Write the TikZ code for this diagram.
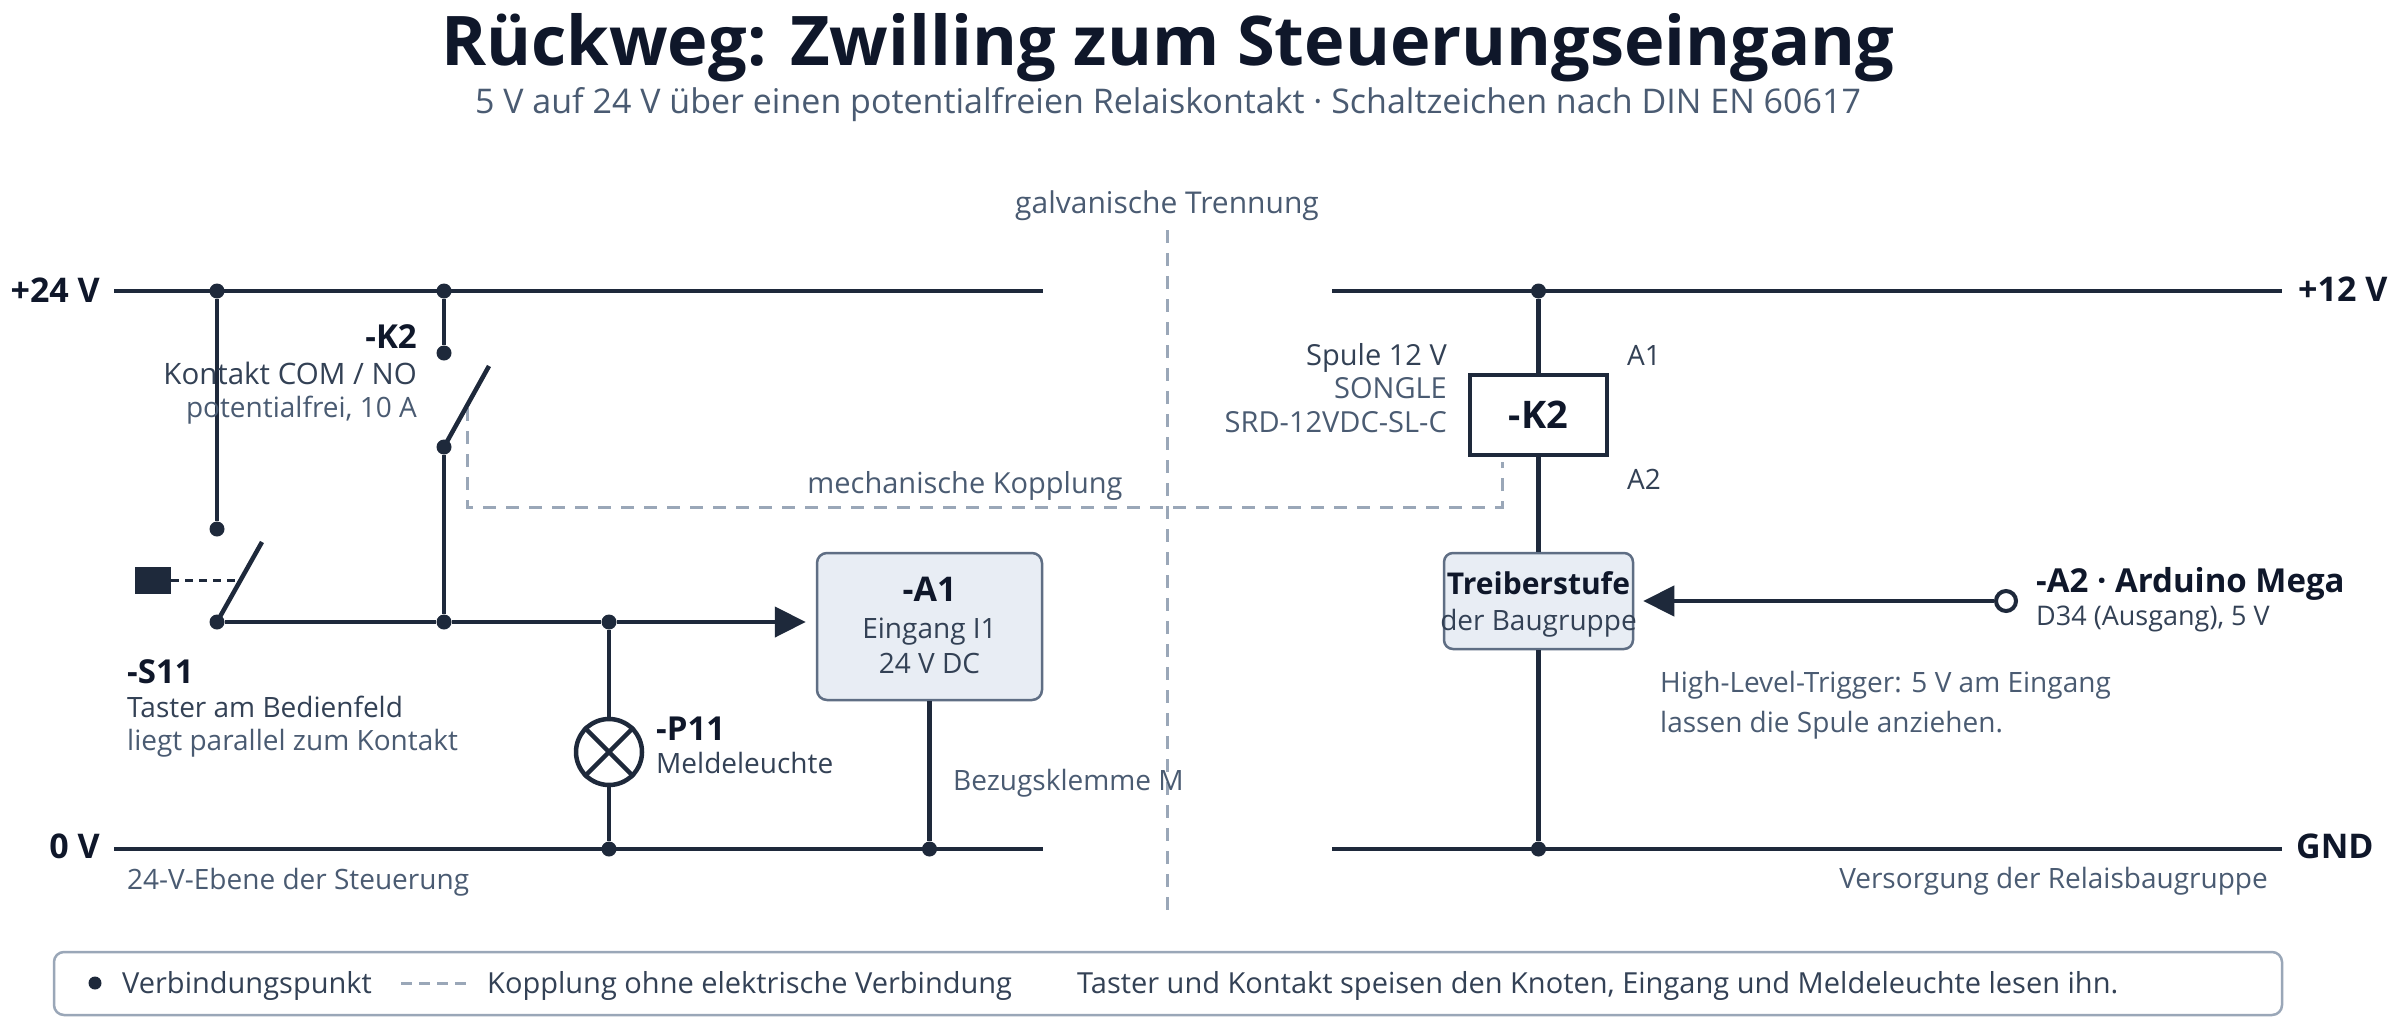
\documentclass[tikz,border=0pt]{standalone}
\usepackage{fontspec}
\setmainfont{Open Sans}
\usetikzlibrary{arrows.meta}
\definecolor{ink}{HTML}{1E293B}
\definecolor{titlec}{HTML}{0F172A}
\definecolor{txt}{HTML}{334155}
\definecolor{muted}{HTML}{4A5B72}
\definecolor{dashc}{HTML}{9AA7B8}
\definecolor{boxfill}{HTML}{E8EDF4}
\definecolor{boxdraw}{HTML}{5F6E84}
\newcommand\myfs[1]{\fontsize{#1}{#1}\selectfont}
\begin{document}
\begin{tikzpicture}[x=1pt,y=-1pt,
  wire/.style={draw=ink,line width=4.5pt},
  coup/.style={draw=dashc,line width=3pt,dash pattern=on 13pt off 10pt},
  dot/.style={circle,fill=ink,inner sep=0pt,minimum size=15pt},
  lbl/.style={inner sep=0pt,font=\myfs{28},text=txt},
  mlbl/.style={inner sep=0pt,font=\myfs{28},text=muted},
  blbl/.style={inner sep=0pt,font=\myfs{33}\bfseries,text=titlec},
  leg/.style={inner sep=0pt,font=\myfs{29},text=txt},
  tip/.style={-{Triangle[length=31pt,width=30pt]}},
  sbox/.style={draw=boxdraw,fill=boxfill,line width=2.5pt,rounded corners=10pt,inner sep=0pt}]
\useasboundingbox (0,0) rectangle (2400,1026);
\fill[white] (0,0) rectangle (2400,1026);

% title
\node[inner sep=0pt,anchor=base,font=\myfs{68.5}\bfseries,text=titlec] (title) at (1168,65) {Rückweg: Zwilling zum Steuerungseingang};
\node[inner sep=0pt,anchor=base,font=\myfs{34}\selectfont,text=muted] (subtitle) at (1168,113) {5 V auf 24 V über einen potentialfreien Relaiskontakt · Schaltzeichen nach DIN EN 60617};

% coordinates
\coordinate (r24L) at (114,291); \coordinate (r24R) at (1043,291);
\coordinate (r0L) at (114,849);  \coordinate (r0R) at (1043,849);
\coordinate (r12L) at (1332,291); \coordinate (r12R) at (2282,291);
\coordinate (gndL) at (1332,849); \coordinate (gndR) at (2282,849);
\coordinate (s11tip) at (262,542);
\coordinate (k2tip) at (489,366);
\coordinate (cA) at (467,408); \coordinate (cB) at (467,507);
\coordinate (cC) at (1502,507); \coordinate (cD) at (1502,462);
\coordinate (g1) at (1167,230); \coordinate (g2) at (1167,910);
\coordinate (actend) at (238,580);

% galvanic separation
\draw[coup] (g1) -- (g2);
\node[mlbl,anchor=base,font=\myfs{30}] (galv) at (1167,213) {galvanische Trennung};

% mechanical coupling
\draw[coup] (cA) -- (cB) -- (cC) -- (cD);
\node[mlbl,anchor=base,font=\myfs{29}] (mech) at (965,493) {mechanische Kopplung};

% rails
\draw[wire] (r24L) -- (r24R);
\draw[wire] (r0L) -- (r0R);
\draw[wire] (r12L) -- (r12R);
\draw[wire] (gndL) -- (gndR);
\node[blbl,anchor=base east,font=\myfs{34}\bfseries] (l24) at (100,302) {+24 V};
\node[blbl,anchor=base east,font=\myfs{34}\bfseries] (l0) at (100,858) {0 V};
\node[blbl,anchor=base west,font=\myfs{34}\bfseries] (l12) at (2298,301) {+12 V};
\node[blbl,anchor=base west,font=\myfs{34}\bfseries] (lgnd) at (2296,858) {GND};
\node[mlbl,anchor=base west] (ebene) at (127,889) {24-V-Ebene der Steuerung};
\node[mlbl,anchor=base east] (vers) at (2268,888) {Versorgung der Relaisbaugruppe};

% boxes
\node[sbox,minimum width=225pt,minimum height=147pt] (a1) at (929.5,626.5) {};
\node[blbl,anchor=base,font=\myfs{34}\bfseries] (a1t) at (929.5,601) {-A1};
\node[lbl,anchor=base] (a1u) at (929.5,638) {Eingang I1};
\node[lbl,anchor=base] (a1v) at (929.5,673) {24 V DC};

\node[draw=ink,fill=white,line width=4.5pt,minimum width=137pt,minimum height=80pt,inner sep=0pt] (coil) at (1538.5,415) {};
\node[blbl,anchor=base,font=\myfs{38}\bfseries] (coilt) at (1538.5,428) {-K2};
\node[lbl,anchor=base west] (ca1) at (1627,365) {A1};
\node[lbl,anchor=base west] (ca2) at (1627,489) {A2};
\node[lbl,anchor=base east,font=\myfs{29}] (sp1) at (1447,365) {Spule 12 V};
\node[mlbl,anchor=base east,font=\myfs{29}] (sp2) at (1447,398) {SONGLE};
\node[mlbl,anchor=base east,font=\myfs{29}] (sp3) at (1447,432) {SRD-12VDC-SL-C};

\node[sbox,rounded corners=9pt,minimum width=189pt,minimum height=96pt] (drv) at (1538.5,601) {};
\node[blbl,anchor=base,font=\myfs{30}\bfseries] (drvt) at (1538.5,594) {Treiberstufe};
\node[lbl,anchor=base] (drvu) at (1538.5,630) {der Baugruppe};

% junction dots
\node[dot] (j1) at (217,291) {};
\node[dot] (j2) at (444,291) {};
\node[dot] (s11top) at (217,529) {};
\node[dot] (s11bot) at (217,622) {};
\node[dot] (k2top) at (444,353) {};
\node[dot] (k2bot) at (444,447) {};
\node[dot] (jn) at (444,622) {};
\node[dot] (jl) at (609,622) {};
\node[dot] (jl0) at (609,849) {};
\node[dot] (ja0) at (929.5,849) {};
\node[dot] (j12) at (1538.5,291) {};
\node[dot] (jgnd) at (1538.5,849) {};

% left circuit
\draw[wire] (j1) -- (s11top);
\draw[wire] (s11bot.center) -- (s11tip);
\draw[wire] (j2) -- (k2top);
\draw[wire] (k2bot.center) -- (k2tip);
\draw[wire] (k2bot) -- (jn);
\draw[wire] (s11bot) -- (jn) -- (jl);
\draw[wire,tip,shorten >=10pt] (jl) -- (jl -| a1.west);
\node[draw=ink,fill=white,circle,line width=4.5pt,minimum size=66pt,inner sep=0pt] (lamp) at (609,752) {};
\draw[wire] (lamp.north east) -- (lamp.south west);
\draw[wire] (lamp.north west) -- (lamp.south east);
\draw[wire] (jl) -- (lamp.north);
\draw[wire] (lamp.south) -- (jl0);
\draw[wire] (a1.south) -- (ja0);

% S11 actuator
\node[fill=ink,minimum width=36pt,minimum height=27pt,inner sep=0pt] (act) at (153,580) {};
\draw[ink,line width=3pt,dash pattern=on 8pt off 6pt] (act.east) -- (actend);

% left labels
\node[blbl,anchor=base east] (k2l) at (417,348) {-K2};
\node[lbl,anchor=base east,font=\myfs{29.5}] (k2m) at (417,384) {Kontakt COM / NO};
\node[mlbl,anchor=base east] (k2n) at (417,417) {potentialfrei, 10 A};
\node[blbl,anchor=base west] (s11l) at (127,683) {-S11};
\node[lbl,anchor=base west] (s11m) at (127,717) {Taster am Bedienfeld};
\node[mlbl,anchor=base west] (s11n) at (127,750) {liegt parallel zum Kontakt};
\node[blbl,anchor=base west] (p11l) at (656,740) {-P11};
\node[lbl,anchor=base west] (p11m) at (656,773) {Meldeleuchte};
\node[mlbl,anchor=base west] (bez) at (953,790) {Bezugsklemme M};

% right circuit
\draw[wire] (j12) -- (coil.north);
\draw[wire] (coil.south) -- (drv.north);
\draw[wire] (drv.south) -- (jgnd);
\node[draw=ink,fill=white,circle,line width=4pt,minimum size=20pt,inner sep=0pt] (a2) at (2006,601) {};
\draw[wire,tip,shorten >=9pt] (a2.west) -- (drv.east);
\node[blbl,anchor=base west] (a2l) at (2036,592) {-A2 · Arduino Mega};
\node[lbl,anchor=base west,font=\myfs{27}] (a2m) at (2036,625) {D34 (Ausgang), 5 V};
\node[mlbl,anchor=base west] (hl1) at (1660,692) {High-Level-Trigger: 5 V am Eingang};
\node[mlbl,anchor=base west] (hl2) at (1660,732) {lassen die Spule anziehen.};

% legend
\node[draw=dashc,fill=white,line width=2.5pt,rounded corners=10pt,minimum width=2228pt,minimum height=63pt,inner sep=0pt] (legend) at (1168,983.5) {};
\node[dot,minimum size=13pt] (ldot) at (95,983) {};
\node[leg,anchor=base west] (lt1) at (122,993) {Verbindungspunkt};
\coordinate (ld1) at (401,983); \coordinate (ld2) at (472,983);
\draw[draw=dashc,line width=3pt,dash pattern=on 11pt off 7pt] (ld1) -- (ld2);
\node[leg,anchor=base west] (lt2) at (487,993) {Kopplung ohne elektrische Verbindung};
\node[leg,anchor=base west] (lt3) at (1077,993) {Taster und Kontakt speisen den Knoten, Eingang und Meldeleuchte lesen ihn.};
\end{tikzpicture}
\end{document}
